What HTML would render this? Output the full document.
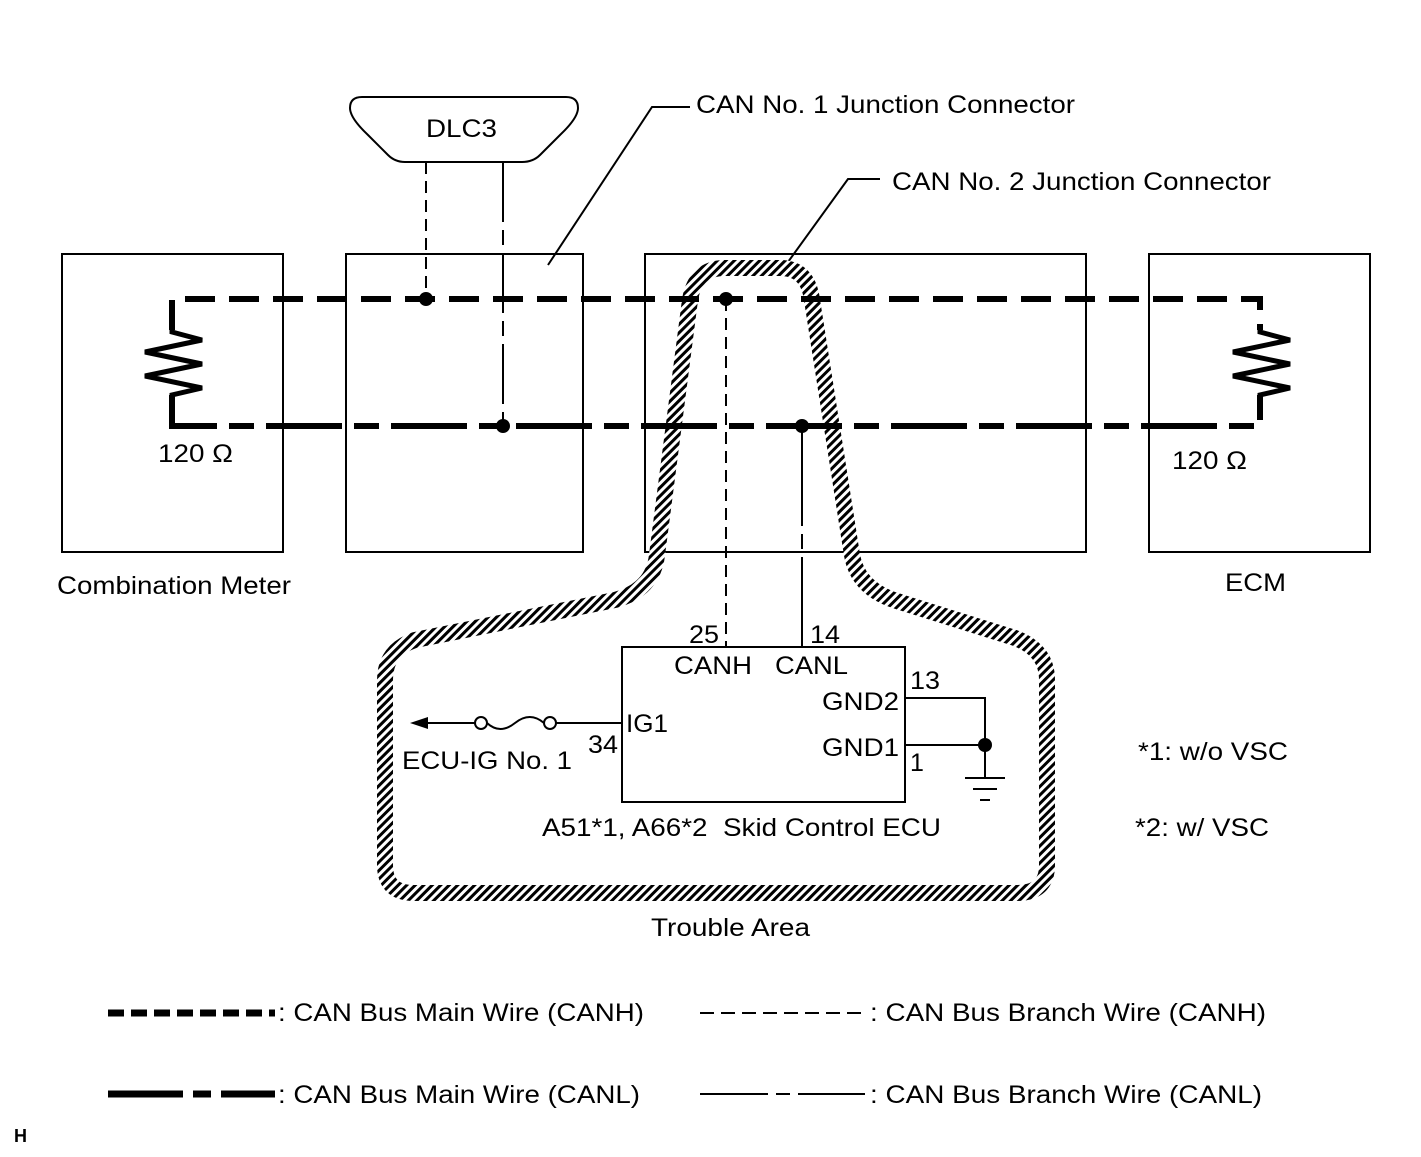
<!DOCTYPE html>
<html><head><meta charset="utf-8"><style>
html,body{margin:0;padding:0;background:#fff}
svg{display:block}
text{font-family:"Liberation Sans",sans-serif;font-size:25px;fill:#000}
</style></head><body>
<svg width="1421" height="1157" viewBox="0 0 1421 1157" xmlns="http://www.w3.org/2000/svg">
<defs>
<pattern id="h" patternUnits="userSpaceOnUse" width="6" height="6" patternTransform="rotate(45)">
<rect width="6" height="6" fill="#fff"/><rect width="3" height="6" fill="#000"/>
</pattern>
</defs>
<g fill="none" stroke="#000" stroke-width="2">
<rect x="62" y="254" width="221" height="298"/>
<rect x="346" y="254" width="237" height="298"/>
<rect x="645" y="254" width="441" height="298"/>
<rect x="1149" y="254" width="221" height="298"/>
<path d="M350 108 Q350 97 362 97 L566 97 Q578 97 578 108 Q578 118 560 135 L540 155 Q533 162 522 162 L405 162 Q395 162 388 155 L368 135 Q350 118 350 108 Z"/>
<polyline points="548,265 652,107 690,107"/>
<polyline points="788,262 848,179 880,179"/>
<rect x="622" y="647" width="283" height="155"/>
<polyline points="905,698 985,698 985,778"/>
<line x1="905" y1="745" x2="985" y2="745"/>
<line x1="965" y1="778" x2="1005" y2="778"/>
<line x1="973" y1="789" x2="997" y2="789"/>
<line x1="980" y1="800" x2="990" y2="800"/>
<line x1="622" y1="723" x2="556" y2="723"/>
<line x1="475" y1="723" x2="425" y2="723"/>
<path d="M487 723 Q500 735 515 723 Q530 711 544 723"/>
<circle cx="481" cy="723" r="6" fill="#fff"/>
<circle cx="550" cy="723" r="6" fill="#fff"/>
<line x1="426" y1="162" x2="426" y2="299" stroke-dasharray="12,7"/>
<line x1="503" y1="162" x2="503" y2="426" stroke-dasharray="60,8,15,8"/>
<line x1="726" y1="299" x2="726" y2="647" stroke-dasharray="12,7"/>
<line x1="802" y1="426" x2="802" y2="647" stroke-dasharray="100,8,15,8"/>
</g>
<polygon points="410,723 428,717 428,729" fill="#000"/>
<path d="M690 300 Q695 268 725 268 L780 268 Q808 268 812 300 L852 555 Q858 590 900 602 L1015 638 Q1047 650 1047 680 L1047 865 Q1047 893 1017 893 L414 893 Q385 893 385 865 L385 680 Q385 650 415 640 L615 600 Q653 590 657 555 Z" fill="none" stroke="url(#h)" stroke-width="16"/>
<g fill="none" stroke="#000" stroke-width="6">
<polyline points="172,330 172,299 1260,299 1260,330" stroke-dasharray="30,14"/>
<polyline points="172,395 172,426 1260,426 1260,395" stroke-dasharray="76,12,25,12"/>
</g>
<g fill="none" stroke="#000" stroke-width="5">
<polyline points="172,328 172,332 202,340 145,352 202,364 145,376 202,388 172,395 172,397"/>
<polyline points="1260,328 1260,332 1290,340 1233,352 1290,364 1233,376 1290,388 1260,395 1260,397"/>
</g>
<g fill="#000">
<circle cx="426" cy="299" r="7"/><circle cx="503" cy="426" r="7"/>
<circle cx="726" cy="299" r="7"/><circle cx="802" cy="426" r="7"/>
<circle cx="985" cy="745" r="7"/>
</g>
<g fill="none" stroke="#000">
<line x1="108" y1="1013" x2="275" y2="1013" stroke-width="7" stroke-dasharray="16,7"/>
<line x1="108" y1="1094" x2="275" y2="1094" stroke-width="7" stroke-dasharray="75,10,18,10"/>
<line x1="700" y1="1013" x2="865" y2="1013" stroke-width="2" stroke-dasharray="14,7"/>
<line x1="700" y1="1094" x2="865" y2="1094" stroke-width="2" stroke-dasharray="68,8,14,8"/>
</g>
<g lengthAdjust="spacingAndGlyphs">
<text x="426" y="137" textLength="71" lengthAdjust="spacingAndGlyphs">DLC3</text>
<text x="696" y="113" textLength="379" lengthAdjust="spacingAndGlyphs">CAN No. 1 Junction Connector</text>
<text x="892" y="190" textLength="379" lengthAdjust="spacingAndGlyphs">CAN No. 2 Junction Connector</text>
<text x="158" y="462" textLength="75" lengthAdjust="spacingAndGlyphs">120 Ω</text>
<text x="1172" y="469" textLength="75" lengthAdjust="spacingAndGlyphs">120 Ω</text>
<text x="57" y="594" textLength="234" lengthAdjust="spacingAndGlyphs">Combination Meter</text>
<text x="1225" y="591" textLength="61" lengthAdjust="spacingAndGlyphs">ECM</text>
<text x="689" y="643" textLength="30" lengthAdjust="spacingAndGlyphs">25</text>
<text x="810" y="643" textLength="30" lengthAdjust="spacingAndGlyphs">14</text>
<text x="674" y="674" textLength="78" lengthAdjust="spacingAndGlyphs">CANH</text>
<text x="775" y="674" textLength="73" lengthAdjust="spacingAndGlyphs">CANL</text>
<text x="910" y="689" textLength="30" lengthAdjust="spacingAndGlyphs">13</text>
<text x="822" y="710" textLength="77" lengthAdjust="spacingAndGlyphs">GND2</text>
<text x="822" y="756" textLength="77" lengthAdjust="spacingAndGlyphs">GND1</text>
<text x="910" y="771">1</text>
<text x="626" y="732" textLength="42" lengthAdjust="spacingAndGlyphs">IG1</text>
<text x="588" y="753" textLength="30" lengthAdjust="spacingAndGlyphs">34</text>
<text x="402" y="769" textLength="170" lengthAdjust="spacingAndGlyphs">ECU-IG No. 1</text>
<text x="542" y="836" textLength="399" lengthAdjust="spacingAndGlyphs" xml:space="preserve">A51*1, A66*2  Skid Control ECU</text>
<text x="1138" y="760" textLength="150" lengthAdjust="spacingAndGlyphs">*1: w/o VSC</text>
<text x="1135" y="836" textLength="134" lengthAdjust="spacingAndGlyphs">*2: w/ VSC</text>
<text x="651" y="936" textLength="159" lengthAdjust="spacingAndGlyphs">Trouble Area</text>
<text x="278" y="1021" textLength="366" lengthAdjust="spacingAndGlyphs">: CAN Bus Main Wire (CANH)</text>
<text x="278" y="1103" textLength="362" lengthAdjust="spacingAndGlyphs">: CAN Bus Main Wire (CANL)</text>
<text x="870" y="1021" textLength="396" lengthAdjust="spacingAndGlyphs">: CAN Bus Branch Wire (CANH)</text>
<text x="870" y="1103" textLength="392" lengthAdjust="spacingAndGlyphs">: CAN Bus Branch Wire (CANL)</text>
</g>
<text x="14" y="1142" style="font-size:18px;font-weight:bold">H</text>
</svg>
</body></html>
